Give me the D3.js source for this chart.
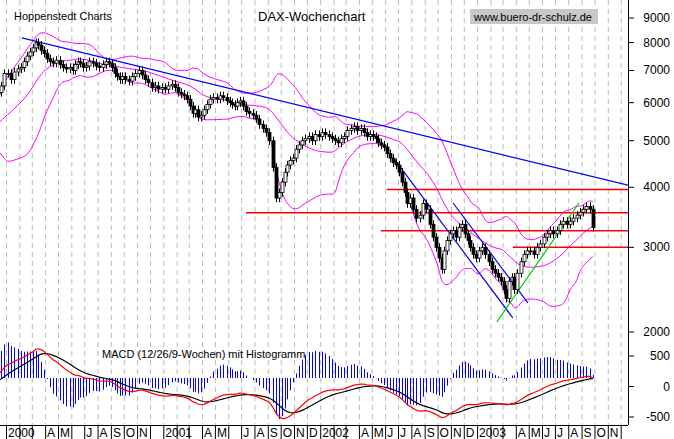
<!DOCTYPE html>
<html>
<head>
<meta charset="utf-8">
<script src="https://cdn.jsdelivr.net/npm/d3@7"></script>
<style>
  body { margin: 0; background: #fff; }
  svg { font-family: Arial, "Liberation Sans", sans-serif; }
</style>
</head>
<body>
<div id="chart"></div>
<script>
// weekly closes, grouped by month (warm-up from Jul 1999 for bands and MACD)
const closes1999 = [[5300,5250,5200,5150],[5300,5250,5100,5200],[5300,5350,5250,5150],
  [5100,5200,5350,5450],[5550,5700,5850,5950],[6000,6300,6500,6900]]
const closes2000 = [[6900,6700,6950,7050],[7100,7300,7500,7650],[7800,8000,7900,7700,7600],
  [7400,7300,7250,7350],[7200,7100,7050,7100],[7000,7200,7300,7250,7100],
  [7150,7300,7250,7150],[7100,7200,7300,7250],[7100,6900,6800,6700,6800],
  [6700,6650,6800,6900],[7000,6850,6700,6600],[6450,6500,6400,6450]]
const closes2001 = [[6400,6500,6550,6450],[6300,6250,6200,6100],[5900,5700,5800,5600,5650],
  [5800,5950,6100,6150],[6100,6200,6150,6050],[6000,5950,5900,6000,6050],
  [5900,5750,5700,5650],[5550,5400,5300,5200],[5000,4400,3800,3900],
  [4100,4300,4450,4550,4600],[4800,4900,5000,5050],[5100,5000,5150,5100]]
const closes2002 = [[5200,5150,5100,5050],[5000,4950,5050,5100],[5250,5300,5350,5250],
  [5300,5200,5100,5150],[5100,5050,4950,4900,4850],[4700,4600,4500,4450],
  [4300,4100,3900,3700,3800],[3600,3450,3500,3700],[3600,3350,3150,3000],
  [2850,2700,2950,3100,3200],[3250,3150,3300,3350],[3200,3100,3000,2900,2850]]
const closes2003 = [[2950,3000,2900,2800],[2700,2650,2600,2550],[2450,2350,2550,2600,2450],
  [2650,2800,2900,2950],[2950,2900,3000,3050],[3150,3200,3250,3200],
  [3250,3350,3400,3350],[3400,3450,3500,3550],[3600,3650,3600,3300]]

// analyst lines: [startDate, startValue, endDate, endValue, colour]
const trendLines = [
  ['2000-02-07', 8180, '2003-12-18', 4040, '#0000ff'],
  ['2002-06-23', 4570, '2003-03-25', 2140, '#0000ff'],
  ['2002-11-06', 3710, '2003-04-29', 2300, '#0000ff'],
  ['2003-02-16', 2100, '2003-08-26', 3710, '#00cc00'],
]
// horizontal support / resistance: [startDate, value]
const levels = [['2001-07-12', 3540], ['2002-06-05', 3960], ['2002-05-22', 3250], ['2003-03-25', 3000]]

const priceTicks = [2000, 3000, 4000, 5000, 6000, 7000, 8000, 9000]
const macdTicks = [-500, 0, 500]
const monthLabels = {
  2000: ['2000','','','A','M','','J','A','S','O','N',''],
  2001: ['2001','','','A','M','','J','A','S','O','N','D'],
  2002: ['2002','','','A','M','J','J','A','S','O','N','D'],
  2003: ['2003','','','A','M','J','J','A','S','O','N',''],
}

// flatten into weekly records
const weeks = []
const addYear = (year, startMonth, months) => months.forEach((vals, i) => {
  const m0 = new Date(year, startMonth + i, 1), m1 = new Date(year, startMonth + i + 1, 1)
  vals.forEach((c, j) => weeks.push({
    date: new Date(+m0 + (m1 - m0) * (j + 0.5) / vals.length), close: c }))
})
addYear(1999, 6, closes1999)
addYear(2000, 0, closes2000)
addYear(2001, 0, closes2001)
addYear(2002, 0, closes2002)
addYear(2003, 0, closes2003)
weeks.forEach((d, i) => {
  d.open = i ? weeks[i - 1].close : d.close
  d.high = Math.max(d.open, d.close) * 1.02
  d.low = Math.min(d.open, d.close) * 0.98
})

// indicators
const n = 20
weeks.forEach((d, i) => {
  if (i < n - 1) return
  const s = weeks.slice(i - n + 1, i + 1).map(w => w.close)
  const m = d3.mean(s), sd = d3.deviation(s) * Math.sqrt((n - 1) / n)
  d.mid = m; d.up = m + 2 * sd; d.dn = m - 2 * sd
})
const ema = (arr, p) => { const k = 2 / (p + 1); let e = arr[0]; return arr.map(v => (e = v * k + e * (1 - k))) }
const cl = weeks.map(d => d.close)
const e12 = ema(cl, 12), e26 = ema(cl, 26)
const macd = e12.map((v, i) => v - e26[i])
const sig = ema(macd, 9)
weeks.forEach((d, i) => { d.macd = macd[i]; d.sig = sig[i]; d.hist = macd[i] - sig[i] })

// dimensions
const W = 674, H = 439, plotR = 628, axisY = 425
const svg = d3.select('#chart').append('svg').attr('width', W).attr('height', H)

const x = d3.scaleTime().domain([new Date(2000, 0, 1), new Date(2003, 11, 18)]).range([6, plotR])
const y = d3.scaleLog().domain([2000, 9000]).range([332, 18])
const ym = d3.scaleLinear().domain([-500, 500]).range([417, 356])
const histBase = 378, histK = 0.22

svg.append('clipPath').attr('id', 'clip').append('rect').attr('x', 0).attr('y', 0).attr('width', plotR).attr('height', axisY)
const plot = svg.append('g').attr('clip-path', 'url(#clip)')

// monthly dashed grid
const months = d3.timeMonth.range(new Date(2000, 0, 1), new Date(2003, 11, 2))
plot.selectAll('.grid').data(months).join('line')
  .attr('x1', d => x(d) + 0.5).attr('x2', d => x(d) + 0.5)
  .attr('y1', 0).attr('y2', axisY)
  .attr('stroke', '#bbb').attr('stroke-dasharray', '5,4')

// bollinger bands
const bw = weeks.filter(d => d.mid)
;['up', 'mid', 'dn'].forEach(k => plot.append('path').datum(bw)
  .attr('d', d3.line().x(d => x(d.date)).y(d => y(d[k])).curve(d3.curveMonotoneX))
  .attr('fill', 'none').attr('stroke', '#ff00ff').attr('stroke-width', 1))

// horizontal levels
plot.selectAll('.lvl').data(levels).join('line')
  .attr('x1', d => x(new Date(d[0]))).attr('x2', plotR)
  .attr('y1', d => y(d[1])).attr('y2', d => y(d[1]))
  .attr('stroke', '#ff0000').attr('stroke-width', 1.5)

// trend lines
plot.selectAll('.tl').data(trendLines).join('line')
  .attr('x1', d => x(new Date(d[0]))).attr('y1', d => y(d[1]))
  .attr('x2', d => x(new Date(d[2]))).attr('y2', d => y(d[3]))
  .attr('stroke', d => d[4]).attr('stroke-width', 1.2)

// candles
const cw = weeks.filter(d => d.date >= new Date(1999, 11, 20))
const cg = plot.append('g')
cg.selectAll('.wick').data(cw).join('line')
  .attr('x1', d => Math.round(x(d.date)) + 0.5).attr('x2', d => Math.round(x(d.date)) + 0.5)
  .attr('y1', d => y(d.high)).attr('y2', d => y(d.low)).attr('stroke', '#000')
cg.selectAll('.body').data(cw).join('rect')
  .attr('x', d => Math.round(x(d.date)) - 1)
  .attr('width', 3)
  .attr('y', d => y(Math.max(d.open, d.close)))
  .attr('height', d => Math.max(1, Math.abs(y(d.open) - y(d.close))))
  .attr('fill', d => d.close < d.open ? '#000' : '#fff')
  .attr('stroke', '#000').attr('stroke-width', 0.8)

// MACD histogram and lines
plot.selectAll('.hist').data(weeks).join('line')
  .attr('x1', d => Math.round(x(d.date)) + 0.5).attr('x2', d => Math.round(x(d.date)) + 0.5)
  .attr('y1', histBase).attr('y2', d => histBase - d.hist * histK)
  .attr('stroke', '#0000ff').attr('stroke-width', 1)
plot.append('path').datum(weeks)
  .attr('d', d3.line().x(d => x(d.date)).y(d => ym(d.sig)))
  .attr('fill', 'none').attr('stroke', '#000').attr('stroke-width', 1.2)
plot.append('path').datum(weeks)
  .attr('d', d3.line().x(d => x(d.date)).y(d => ym(d.macd)))
  .attr('fill', 'none').attr('stroke', '#ff0000').attr('stroke-width', 1.2)

// right axis
svg.append('line').attr('x1', plotR + 0.5).attr('x2', plotR + 0.5).attr('y1', 0).attr('y2', axisY).attr('stroke', '#000')
svg.selectAll('.pt').data(priceTicks).join('line')
  .attr('x1', plotR).attr('x2', plotR + 6).attr('y1', d => y(d)).attr('y2', d => y(d)).attr('stroke', '#000')
svg.selectAll('.pl').data(priceTicks).join('text')
  .attr('x', 670).attr('y', d => y(d) + 4).attr('text-anchor', 'end').attr('font-size', 12).text(d => d)
svg.selectAll('.mt').data(macdTicks).join('line')
  .attr('x1', plotR).attr('x2', plotR + 6).attr('y1', d => ym(d)).attr('y2', d => ym(d)).attr('stroke', '#000')
svg.selectAll('.ml').data(macdTicks).join('text')
  .attr('x', 670).attr('y', d => ym(d) + 4).attr('text-anchor', 'end').attr('font-size', 12).text(d => d)

// bottom axis
svg.append('line').attr('x1', 0).attr('x2', plotR).attr('y1', axisY + 0.5).attr('y2', axisY + 0.5).attr('stroke', '#000')
svg.selectAll('.bt').data(months).join('line')
  .attr('x1', d => x(d) + 0.5).attr('x2', d => x(d) + 0.5).attr('y1', axisY).attr('y2', H).attr('stroke', '#000')
svg.selectAll('.bl').data(months).join('text')
  .attr('x', d => x(d) + 2).attr('y', 437).attr('font-size', 12)
  .text(d => monthLabels[d.getFullYear()][d.getMonth()])

// titles
svg.append('text').attr('x', 14).attr('y', 20).attr('font-size', 11).text('Hoppenstedt Charts')
svg.append('text').attr('x', 258).attr('y', 21).attr('font-size', 13).text('DAX-Wochenchart')
svg.append('rect').attr('x', 470).attr('y', 9).attr('width', 128).attr('height', 15).attr('fill', '#c8c8c8')
svg.append('text').attr('x', 474).attr('y', 21).attr('font-size', 11).text('www.buero-dr-schulz.de')
svg.append('text').attr('x', 102).attr('y', 358).attr('font-size', 11).text('MACD (12/26/9-Wochen) mit Histogramm')
</script>
</body>
</html>
